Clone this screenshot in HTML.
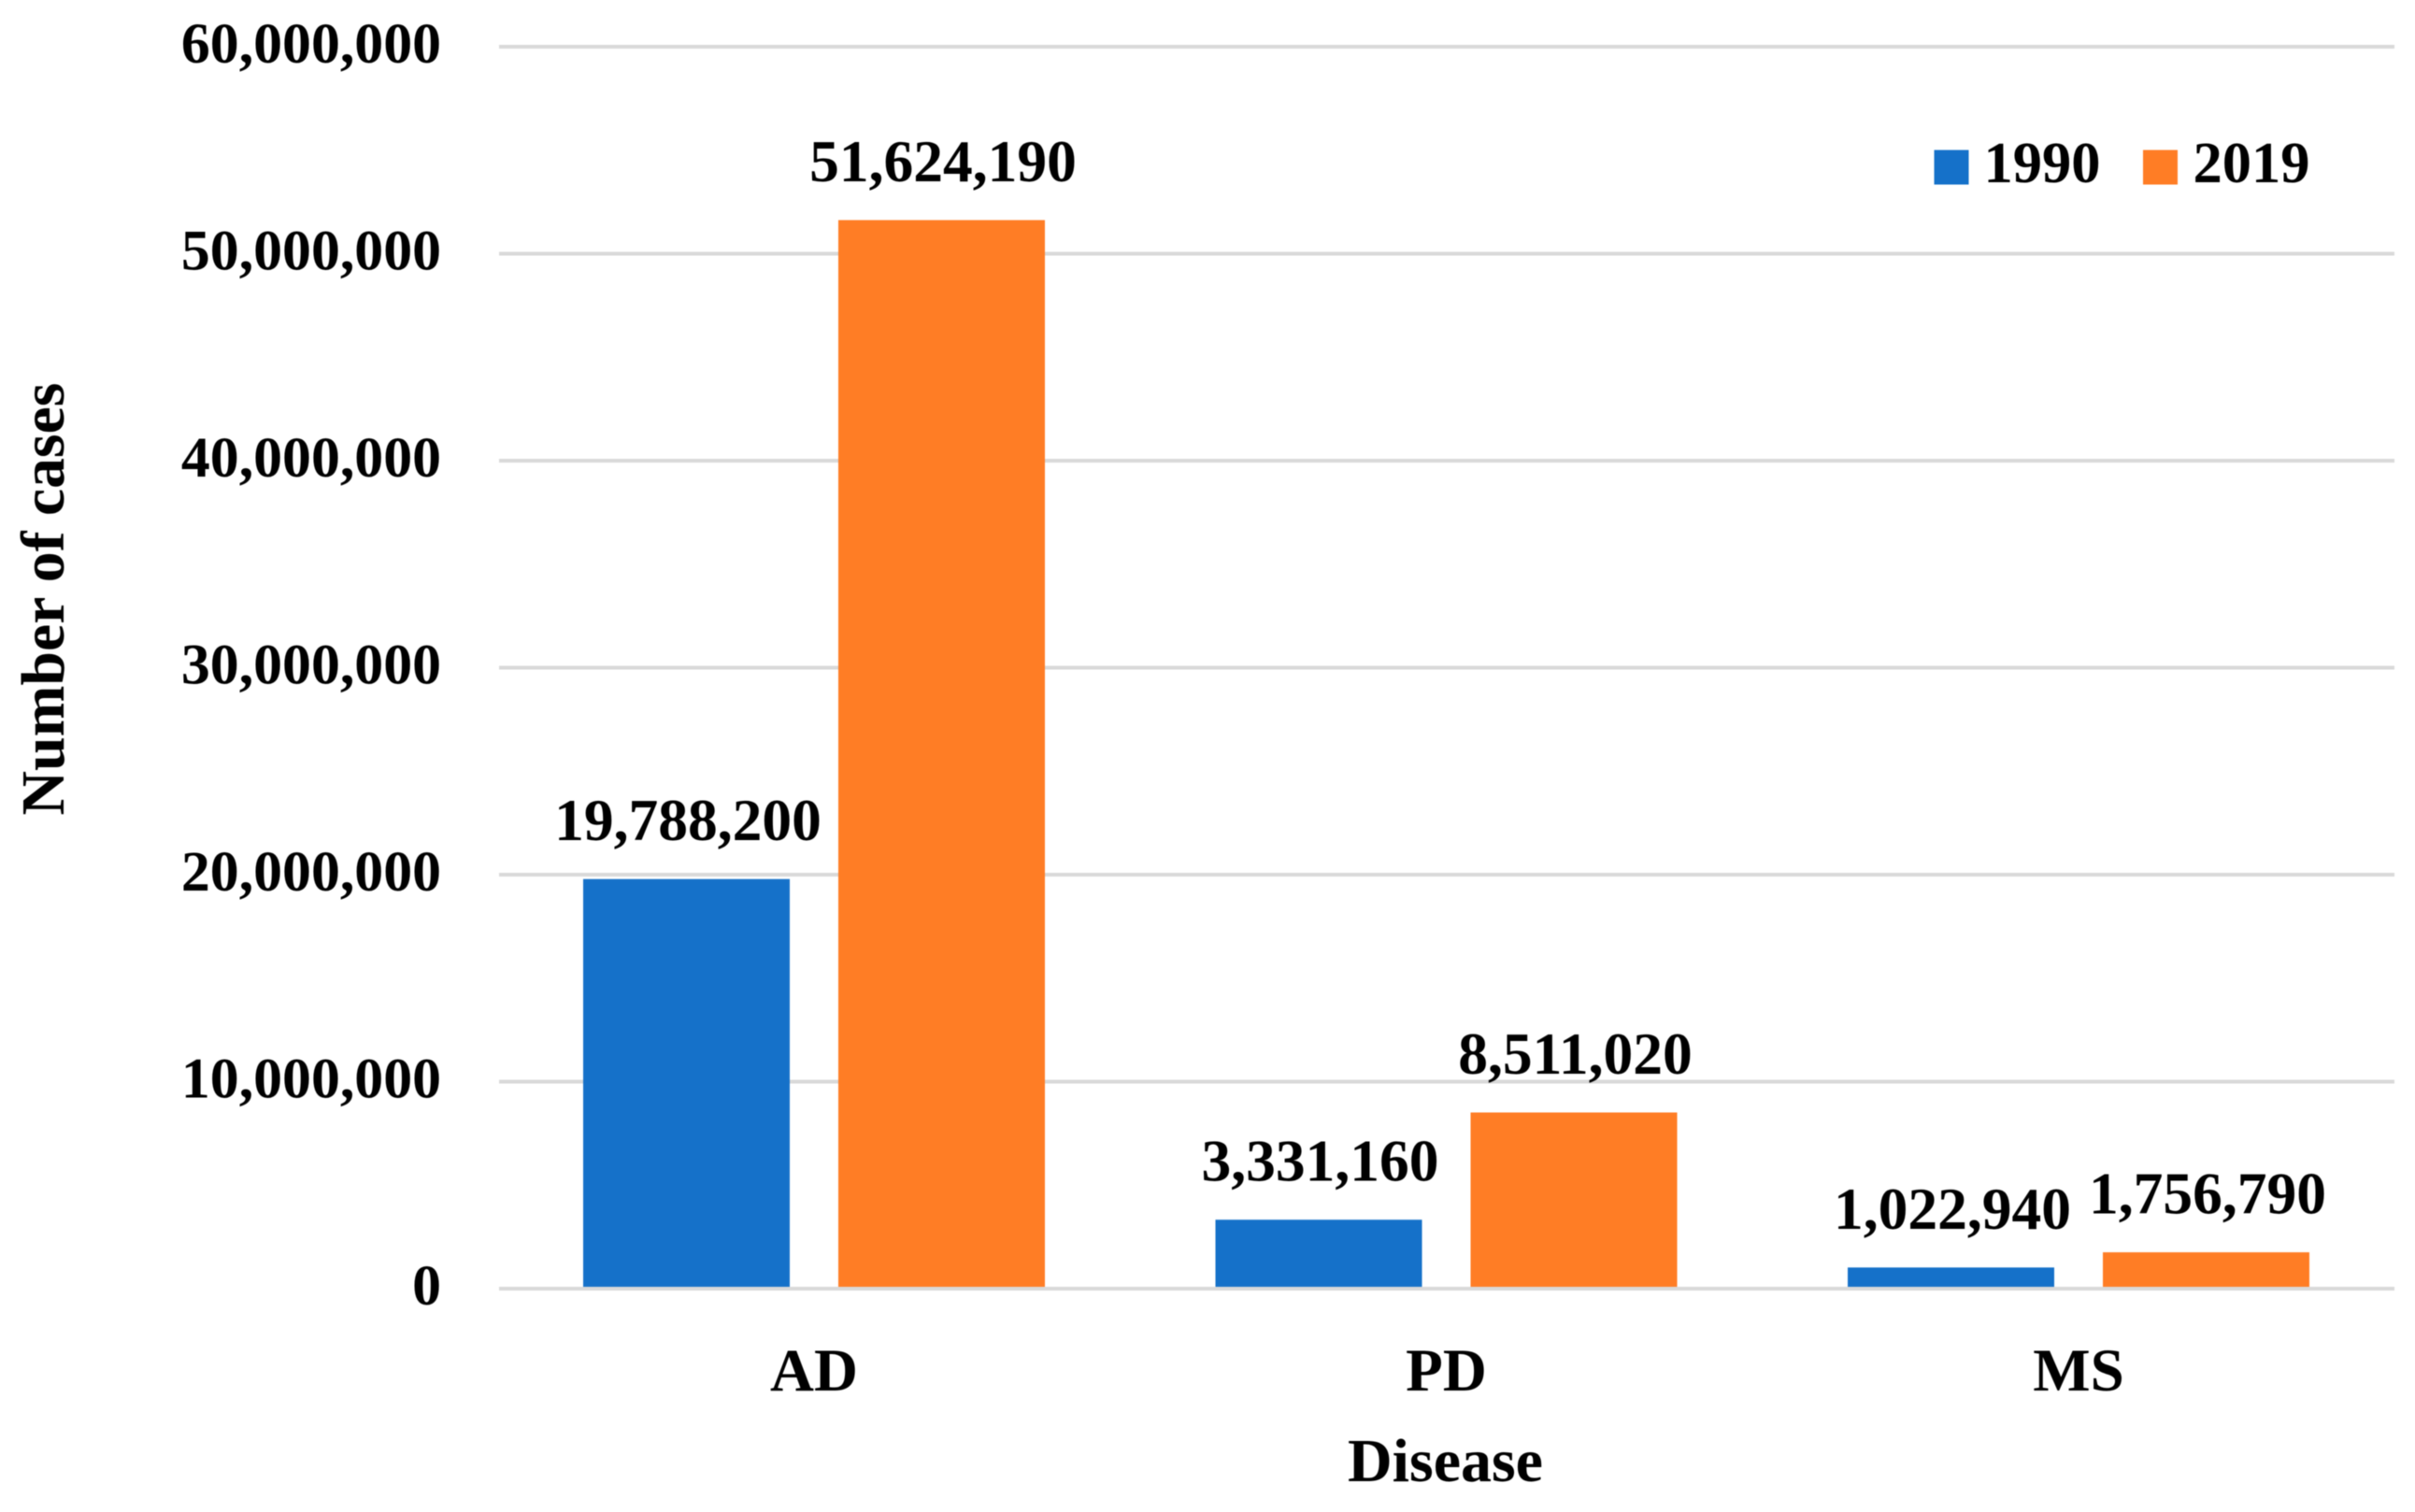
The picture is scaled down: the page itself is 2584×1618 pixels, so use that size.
<!DOCTYPE html>
<html lang="en">
<head>
<meta charset="utf-8">
<title>Number of cases by disease, 1990 and 2019</title>
<style>
  html, body { margin: 0; padding: 0; background: #ffffff; }
  svg { display: block; filter: blur(0.6px); }
  text { font-family: "Liberation Serif", serif; font-weight: 700; fill: #000000; }
</style>
</head>
<body>
<svg id="chart" xmlns="http://www.w3.org/2000/svg" width="2584" height="1618" viewBox="0 0 2584 1618">
  <rect x="0" y="0" width="2584" height="1618" fill="#ffffff"></rect>
  <g id="grid"></g>
  <g id="yticks"></g>
  <g id="bars"></g>
  <g id="values"></g>
  <g id="xticks"></g>
  <text x="1546.5" y="1585" text-anchor="middle" font-size="66">Disease</text>
  <text transform="translate(68,641) rotate(-90)" text-anchor="middle" font-size="65.8">Number of cases</text>
  <g>
    <g>
      <rect x="2069.5" y="160.5" width="37" height="37" fill="#1571c9"></rect>
      <text x="2122.5" y="195" font-size="62.5">1990</text>
    </g>
    <g>
      <rect x="2293" y="160.5" width="37" height="37" fill="#ff7d25"></rect>
      <text x="2346.5" y="195" font-size="62.5">2019</text>
    </g>
  </g>
</svg>
<script>
const categories = ['AD', 'PD', 'MS'];
const values1990 = [19788200, 3331160, 1022940];
const values2019 = [51624190, 8511020, 1756790];
const yTicks = [0, 10000000, 20000000, 30000000, 40000000, 50000000, 60000000];

const NS = 'http://www.w3.org/2000/svg';
const plotLeft = 534, plotRight = 2562, yZero = 1379, yTop = 50, yMax = 60000000;
const firstBandCenter = 871, bandStep = 676.5;
const barWidth = 221, barGap = 52, barBase = 1377, labelOffset = 41.5;

function yScale(v) { return yZero - (v / yMax) * (yZero - yTop); }
function bandCenter(i) { return firstBandCenter + bandStep * i; }
function fmt(v) { return v.toLocaleString('en-US'); }

function make(tag, attrs, parent, content) {
  const el = document.createElementNS(NS, tag);
  for (const k in attrs) el.setAttribute(k, attrs[k]);
  if (content !== undefined) el.textContent = content;
  parent.appendChild(el);
  return el;
}

const gridG = document.getElementById('grid');
const yTickG = document.getElementById('yticks');
const barsG = document.getElementById('bars');
const valuesG = document.getElementById('values');
const xTickG = document.getElementById('xticks');

yTicks.forEach(function (t) {
  const line = make('line', { x1: plotLeft, x2: plotRight, y1: yScale(t), y2: yScale(t), stroke: '#d9d9d9', 'stroke-width': 4 }, gridG);
  
  
  const label = make('text', { x: 472, y: yScale(t) + 17, 'text-anchor': 'end', 'font-size': 61.8 }, yTickG, fmt(t));
  
  
});

function drawSeries(values, color, side, seriesName) {
  values.forEach(function (v, i) {
    const center = bandCenter(i);
    const x = side < 0 ? center - barGap / 2 - barWidth : center + barGap / 2;
    const top = yScale(v);
    const bar = make('rect', { x: x, y: top, width: barWidth, height: Math.max(0, barBase - top), fill: color }, barsG);
    
    
    const label = make('text', { x: x + barWidth / 2 + 1.5, y: top - labelOffset, 'text-anchor': 'middle', 'font-size': 63.5 }, valuesG, fmt(v));
    
    
  });
}
drawSeries(values1990, '#1571c9', -1, '1990');
drawSeries(values2019, '#ff7d25', 1, '2019');

categories.forEach(function (c, i) {
  const label = make('text', { x: bandCenter(i), y: 1488, 'text-anchor': 'middle', 'font-size': 65 }, xTickG, c);
  
  
});
</script>
</body>
</html>
